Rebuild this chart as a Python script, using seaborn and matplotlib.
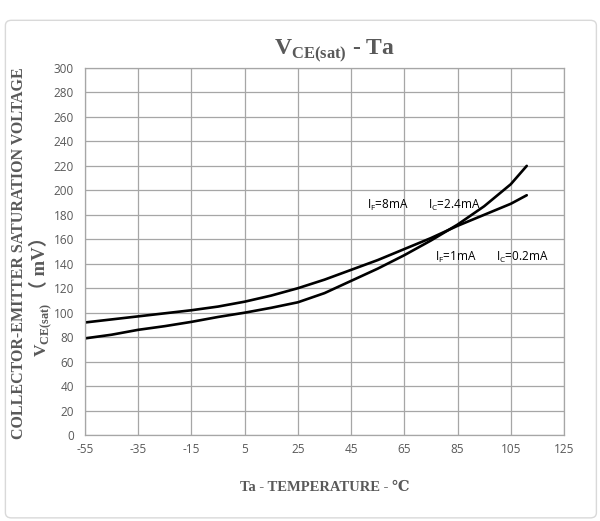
import numpy as np
import pandas as pd
import matplotlib
matplotlib.use('Agg')
import matplotlib.pyplot as plt
import seaborn as sns
from matplotlib.patches import FancyBboxPatch

# data
temp = [-55, -45, -35, -25, -15, -5, 5, 15, 25, 35, 45, 55, 65, 75, 85, 95, 105, 111]
vce_8ma = [92, 94.5, 97, 99.5, 102, 105, 109, 114, 120, 127, 135, 143, 152, 161, 171, 180, 189, 196]
vce_1ma = [79, 82, 86, 89, 92.5, 96.5, 100, 104, 108.5, 116, 126, 136, 147, 159, 172, 187, 205, 220]
x_ticks = [-55, -35, -15, 5, 25, 45, 65, 85, 105, 125]
y_ticks = list(range(0, 301, 20))

df = pd.DataFrame({
    'temp': temp * 2,
    'vce': vce_8ma + vce_1ma,
    'cond': ['8mA'] * len(temp) + ['1mA'] * len(temp),
})

sns.set_theme(style='white')
plt.rcParams['font.family'] = ['Open Sans', 'DejaVu Sans']
plt.rcParams['axes.unicode_minus'] = False

serif = ['Liberation Serif', 'DejaVu Serif', 'DejaVu Sans']
gray = '#595959'

fig = plt.figure(figsize=(6, 5.21), dpi=100)
ax = fig.add_axes([0.1417, 0.165, 0.7983, 0.7045])

sns.lineplot(data=df, x='temp', y='vce', units='cond', estimator=None,
             color='black', lw=1.9, ax=ax, legend=False)

ax.set_xlim(-55, 125)
ax.set_ylim(0, 300)
ax.set_xticks(x_ticks)
ax.set_yticks(y_ticks)
ax.grid(True, color='#a6a6a6', lw=0.9)
for s in ax.spines.values():
    s.set_color('#a6a6a6')
    s.set_linewidth(0.9)
ax.tick_params(axis='x', labelsize=8.5, colors=gray, length=0, pad=6)
ax.tick_params(axis='y', labelsize=8.5, colors=gray, length=0, pad=8)

ax.set_xlabel('Ta - TEMPERATURE - ℃', fontsize=10.5, fontweight='bold',
              family=serif, color=gray, labelpad=18)
ax.set_ylabel('')
fig.text(0.032, 0.515, 'COLLECTOR-EMITTER SATURATION VOLTAGE', rotation=90,
         ha='center', va='center', fontsize=11.5, fontweight='bold',
         family=serif, color=gray)

# second y label line: V_CE(sat) then (mV) stacked upward
t1 = fig.text(0.072, 0.315, r'V$_{\mathregular{CE(sat)}}$', rotation=90,
              ha='center', va='bottom', fontsize=12.5, fontweight='bold',
              family='Liberation Serif', color=gray)
fig.canvas.draw()
bb = t1.get_window_extent().transformed(fig.transFigure.inverted())
fig.text(0.067, bb.y1 + 0.008, '（ mV）', rotation=90,
         ha='center', va='bottom', fontsize=13.5, fontweight='bold',
         family=['Liberation Serif', 'Noto Sans CJK SC'], color=gray)

ax.set_title(r'V$_{\mathregular{CE(sat)}}$ - Ta', fontsize=17, fontweight='bold',
             family='Liberation Serif', color=gray, pad=10, x=0.52)

lab_kw = dict(fontsize=8.5, color='black', va='center')
ax.text(51, 188, r'I$_{\mathregular{F}}$=8mA', **lab_kw)
ax.text(74, 188, r'I$_{\mathregular{C}}$=2.4mA', **lab_kw)
ax.text(76.5, 145, r'I$_{\mathregular{F}}$=1mA', **lab_kw)
ax.text(99.5, 145, r'I$_{\mathregular{C}}$=0.2mA', **lab_kw)

border = FancyBboxPatch((0.009, 0.006), 0.985, 0.955, boxstyle='round,pad=0,rounding_size=0.01',
                        transform=fig.transFigure, fill=False, edgecolor='#d9d9d9', lw=1)
fig.patches.append(border)

fig.savefig('out.png', dpi=100)
